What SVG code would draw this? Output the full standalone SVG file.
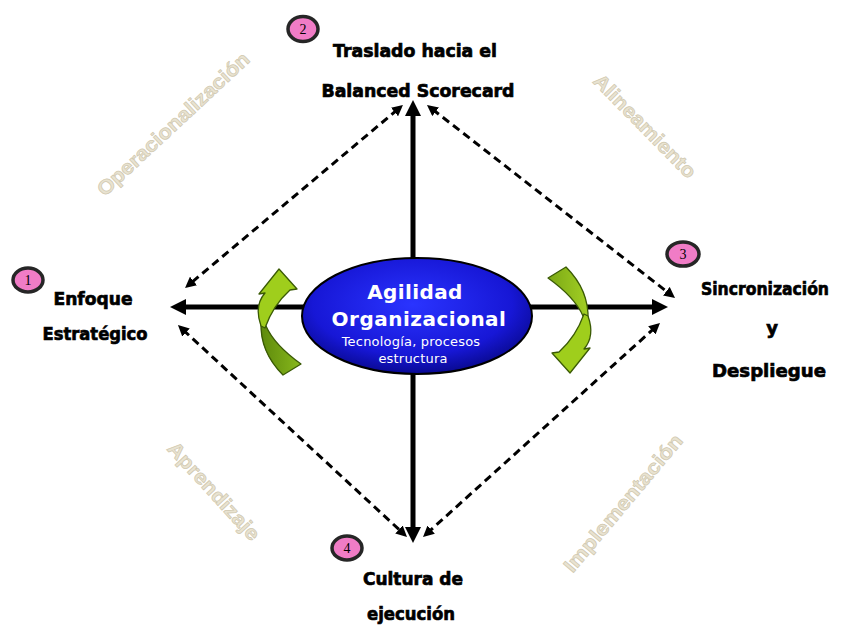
<svg xmlns="http://www.w3.org/2000/svg" width="845" height="628" viewBox="0 0 845 628">
  <style>
    .axis { stroke: #000; stroke-width: 5; fill: none; }
    .dash { stroke: #000; stroke-width: 3; stroke-dasharray: 8 5; fill: none; }
    .label { font-family: "DejaVu Sans", "Liberation Sans", sans-serif; font-weight: bold; font-size: 18px; fill: #000; stroke: #000; stroke-width: 0.7; text-anchor: middle; }
    .mark { font-family: "Liberation Sans", Arial, sans-serif; font-weight: bold; font-size: 20px; fill: #e9e3d1; stroke: #d0c8af; stroke-width: 0.7; text-anchor: middle; }
    .badge { fill: #f07cc6; stroke: #262626; stroke-width: 3.5; }
    .num { font-family: "Liberation Serif", "Times New Roman", serif; font-size: 14px; fill: #000; text-anchor: middle; }
    .core { font-family: "DejaVu Sans", Verdana, sans-serif; fill: #fff; text-anchor: middle; }
    .head { fill: #9fce1c; stroke: #3a5a05; stroke-width: 1.3; stroke-linejoin: round; }
    .tail { stroke: #3a5a05; stroke-width: 1.3; stroke-linejoin: round; }
  </style>
  <defs>
    <marker id="bigHead" markerUnits="userSpaceOnUse" markerWidth="18" markerHeight="16" refX="6" refY="8" orient="auto-start-reverse">
      <path d="M0,0 L16,8 L0,16 Z" fill="#000"/>
    </marker>
    <marker id="smallHead" markerUnits="userSpaceOnUse" markerWidth="12" markerHeight="11" refX="4" refY="5.5" orient="auto-start-reverse">
      <path d="M0,0 L11,5.5 L0,11 Z" fill="#000"/>
    </marker>
    <radialGradient id="coreFill" cx="48%" cy="40%" r="62%">
      <stop offset="0" stop-color="#2a34ff"/>
      <stop offset="0.7" stop-color="#1717d6"/>
      <stop offset="1" stop-color="#08088a"/>
    </radialGradient>
    <linearGradient id="tailFill" x1="0" y1="0" x2="1" y2="0">
      <stop offset="0" stop-color="#5e8a0c"/>
      <stop offset="1" stop-color="#88b81c"/>
    </linearGradient>
    <linearGradient id="tailFillR" x1="1" y1="0" x2="0" y2="0">
      <stop offset="0" stop-color="#7ba815"/>
      <stop offset="1" stop-color="#a2cf24"/>
    </linearGradient>
  </defs>

  <!-- background -->
  <rect width="845" height="628" fill="#fff"/>

  <!-- phase names along the diamond edges -->
  <g id="phase-names">
    <text class="mark" x="173" y="124" dy="0.35em" textLength="200" lengthAdjust="spacingAndGlyphs" transform="rotate(-43 173 124)">Operacionalización</text>
    <text class="mark" x="645" y="126" dy="0.35em" textLength="137" lengthAdjust="spacingAndGlyphs" transform="rotate(45.5 645 126)">Alineamiento</text>
    <text class="mark" x="214" y="491" dy="0.35em" textLength="126" lengthAdjust="spacingAndGlyphs" transform="rotate(47.5 214 491)">Aprendizaje</text>
    <text class="mark" x="623" y="503" dy="0.35em" textLength="173" lengthAdjust="spacingAndGlyphs" transform="rotate(-50 623 503)">Implementación</text>
  </g>

  <!-- connectors -->
  <g id="connectors">
    <line class="axis" x1="413" y1="110" x2="413" y2="533" marker-start="url(#bigHead)" marker-end="url(#bigHead)"/>
    <line class="axis" x1="180" y1="307" x2="658" y2="307" marker-start="url(#bigHead)" marker-end="url(#bigHead)"/>
    <line class="dash" x1="397.6" y1="109.5" x2="190.4" y2="283.5" marker-start="url(#smallHead)" marker-end="url(#smallHead)"/>
    <line class="dash" x1="432.5" y1="109.3" x2="669.5" y2="293.7" marker-start="url(#smallHead)" marker-end="url(#smallHead)"/>
    <line class="dash" x1="183.1" y1="329.8" x2="401.9" y2="532.2" marker-start="url(#smallHead)" marker-end="url(#smallHead)"/>
    <line class="dash" x1="654.8" y1="327.7" x2="428.2" y2="532.3" marker-start="url(#smallHead)" marker-end="url(#smallHead)"/>
  </g>

  <!-- curved cycle arrows -->
  <g id="cycle-left">
    <path class="tail" fill="url(#tailFill)" d="M261,322 C260,346 270,362 283,375 L301,364 C287,354 273,342 266,326 Z"/>
    <path class="head" d="M261,326 C256,312 258,301 265,293 L259,294 L279,269 L297,289 L290,290 C280,299 271,311 265,328 Z"/>
  </g>
  <g id="cycle-right" transform="rotate(180 424.5 321)">
    <path class="tail" fill="url(#tailFillR)" d="M261,322 C260,346 270,362 283,375 L301,364 C287,354 273,342 266,326 Z"/>
    <path class="head" d="M261,326 C256,312 258,301 265,293 L259,294 L279,269 L297,289 L290,290 C280,299 271,311 265,328 Z"/>
  </g>

  <!-- central node -->
  <g id="core">
    <ellipse cx="417" cy="316" rx="115" ry="58" fill="url(#coreFill)" stroke="#000" stroke-width="2"/>
    <text class="core" x="415" y="299" font-size="20" font-weight="bold" letter-spacing="0.4">Agilidad</text>
    <text class="core" x="419" y="326" font-size="20" font-weight="bold" letter-spacing="0.5">Organizacional</text>
    <text class="core" x="411" y="346" font-size="13" letter-spacing="0.2">Tecnología, procesos</text>
    <text class="core" x="413" y="363" font-size="13" letter-spacing="0.2">estructura</text>
  </g>

  <!-- stage 1 -->
  <g id="stage-1">
    <ellipse class="badge" cx="28" cy="280" rx="15" ry="12"/>
    <text class="num" x="28" y="285">1</text>
    <text class="label" x="93" y="305" textLength="79" lengthAdjust="spacingAndGlyphs">Enfoque</text>
    <text class="label" x="95" y="340" textLength="105" lengthAdjust="spacingAndGlyphs">Estratégico</text>
  </g>

  <!-- stage 2 -->
  <g id="stage-2">
    <ellipse class="badge" cx="303" cy="29" rx="15" ry="12.5"/>
    <text class="num" x="303" y="34">2</text>
    <text class="label" x="415" y="57" textLength="164" lengthAdjust="spacingAndGlyphs">Traslado hacia el</text>
    <text class="label" x="418" y="97" textLength="193" lengthAdjust="spacingAndGlyphs">Balanced Scorecard</text>
  </g>

  <!-- stage 3 -->
  <g id="stage-3">
    <ellipse class="badge" cx="683" cy="254" rx="16" ry="12"/>
    <text class="num" x="683" y="259">3</text>
    <text class="label" x="765" y="295" font-size="16" textLength="128" lengthAdjust="spacingAndGlyphs">Sincronización</text>
    <text class="label" x="772" y="334">y</text>
    <text class="label" x="769" y="377" textLength="114" lengthAdjust="spacingAndGlyphs">Despliegue</text>
  </g>

  <!-- stage 4 -->
  <g id="stage-4">
    <ellipse class="badge" cx="347" cy="548" rx="15" ry="12"/>
    <text class="num" x="347" y="553">4</text>
    <text class="label" x="413" y="585" textLength="100" lengthAdjust="spacingAndGlyphs">Cultura de</text>
    <text class="label" x="411" y="620" textLength="88" lengthAdjust="spacingAndGlyphs">ejecución</text>
  </g>
</svg>
